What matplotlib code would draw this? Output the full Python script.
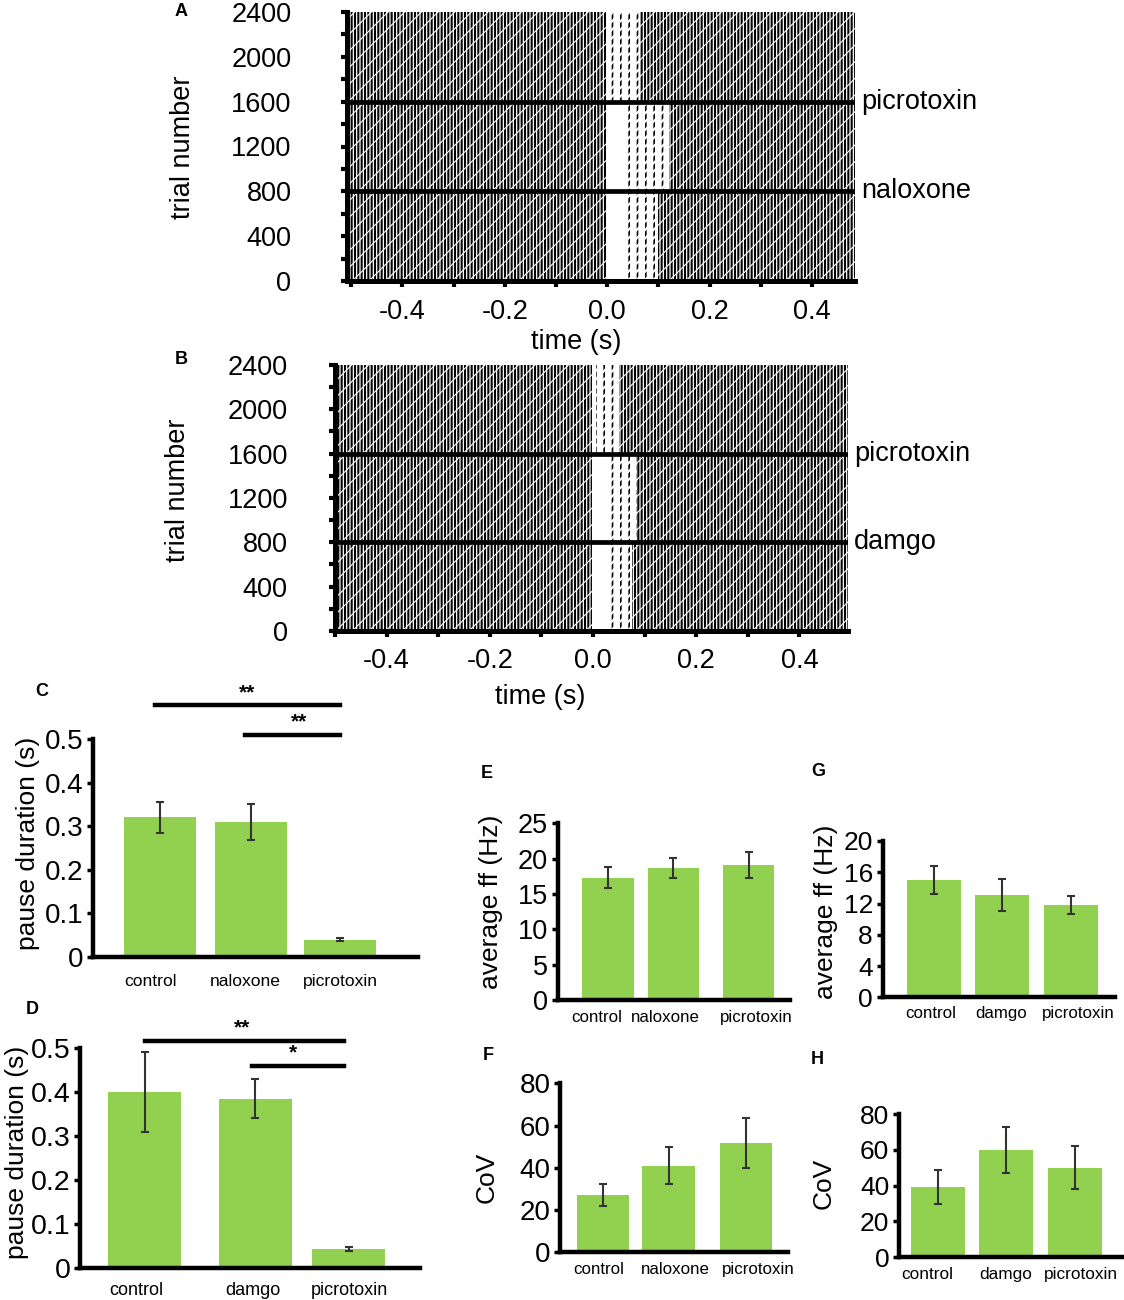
import matplotlib
matplotlib.use('Agg')
import matplotlib.pyplot as plt

plt.rcParams['font.family'] = ['Liberation Sans', 'DejaVu Sans']

# raster panels (A, B): trial blocks, end of the silent pause, end of the sparse zone
trial_edges = [0, 800, 1600, 2400]
a_drugs = ['naloxone', 'picrotoxin']
a_pause_end = [0.035, 0.035, 0.008]
a_recovery = [0.10, 0.12, 0.065]
b_drugs = ['damgo', 'picrotoxin']
b_pause_end = [0.03, 0.035, 0.005]
b_recovery = [0.075, 0.085, 0.05]
time_ticks = [-0.4, -0.2, 0.0, 0.2, 0.4]
trial_ticks = [0, 400, 800, 1200, 1600, 2000, 2400]

# bar panels (C-H)
nal_names = ['control', 'naloxone', 'picrotoxin']
dam_names = ['control', 'damgo', 'picrotoxin']
c_pause = [0.32, 0.31, 0.04]
c_err = [0.036, 0.041, 0.004]
d_pause = [0.40, 0.385, 0.043]
d_err = [0.09, 0.044, 0.004]
e_ff = [17.3, 18.7, 19.1]
e_err = [1.5, 1.45, 1.9]
f_cov = [27.1, 41.0, 51.9]
f_err = [5.0, 8.7, 11.8]
g_ff = [15.0, 13.1, 11.8]
g_err = [1.8, 2.05, 1.1]
h_cov = [39, 60, 50]
h_err = [9.5, 13, 12]

GREEN = '#92D050'
W, H = 1124, 1300

fig = plt.figure(figsize=(W / 100, H / 100), dpi=100)


def box(l, t, r, b):
    # pixel box -> figure fraction
    return [l / W, 1 - b / H, (r - l) / W, (b - t) / H]


def spike_fill(ax, a, b, lo, hi, dense):
    # raster texture: vertical black strokes cut by thin white slants
    with plt.rc_context({'hatch.linewidth': 1.5 if dense else 1.2}):
        ax.fill_between([a, b], lo, hi, facecolor='white', edgecolor='black',
                        hatch='|||||' if dense else '||', linewidth=0)
    with plt.rc_context({'hatch.linewidth': 0.8 if dense else 1.6}):
        ax.fill_between([a, b], lo, hi, facecolor='none', edgecolor='white',
                        hatch='//' if dense else '////', linewidth=0)


def raster(ax, pause_end, recovery, xlim, drugs, ypad, xpad):
    x0, x1 = xlim
    for i in range(3):
        lo, hi = trial_edges[i], trial_edges[i + 1]
        spike_fill(ax, x0, -0.002, lo, hi, True)
        spike_fill(ax, pause_end[i], recovery[i], lo, hi, False)
        spike_fill(ax, recovery[i], x1, lo, hi, True)
    for y in trial_edges[1:3]:
        ax.axhline(y, color='black', lw=3.4)
    ax.set_xlim(x0, x1)
    ax.set_ylim(0, 2400)
    for s in ['top', 'right']:
        ax.spines[s].set_visible(False)
    for s in ['left', 'bottom']:
        ax.spines[s].set_linewidth(3.6)
    ax.set_xticks(time_ticks)
    ax.set_xticklabels(['%.1f' % t for t in time_ticks])
    ax.set_xticks([-0.5, -0.3, -0.1, 0.1, 0.3], minor=True)
    ax.set_yticks(trial_ticks)
    ax.set_yticks(range(200, 2400, 400), minor=True)
    ax.tick_params(axis='y', which='both', length=4, width=3, pad=ypad, labelsize=19.5)
    ax.tick_params(axis='x', which='both', length=4, width=3, pad=xpad, labelsize=19.5)
    for y, name in zip(trial_edges[1:3], drugs):
        ax.text(1.012, y, name, transform=ax.get_yaxis_transform(), fontsize=19.5,
                va='center', ha='left')


def bars(ax, pos, vals, errs, names, label_pos, ylim, yticks, xlim, width,
         ylab_size, xpad, xlab_size=12.6):
    ax.bar(pos, vals, width=width, color=GREEN)
    ax.errorbar(pos, vals, yerr=errs, fmt='none', ecolor='#333333', elinewidth=1.5,
                capsize=3, capthick=1.5)
    ax.set_xlim(*xlim)
    ax.set_ylim(*ylim)
    ax.set_yticks(yticks)
    ax.set_xticks(label_pos)
    ax.set_xticklabels(names)
    for s in ['top', 'right']:
        ax.spines[s].set_visible(False)
    for s in ['left', 'bottom']:
        ax.spines[s].set_linewidth(3.2)
    ax.spines['left'].set_capstyle('projecting')
    ax.tick_params(axis='y', length=4, width=2.5, pad=3, labelsize=ylab_size)
    ax.tick_params(axis='x', length=0, pad=xpad, labelsize=xlab_size)


# ---- A
axA = fig.add_axes(box(347, 12, 855, 281))
raster(axA, a_pause_end, a_recovery, (-0.508, 0.484), a_drugs, 36, 9)
fig.text(576 / W, 1 - 342 / H, 'time (s)', fontsize=19.5, ha='center', va='center')
fig.text(183 / W, 1 - 147 / H, 'trial number', fontsize=19.5, rotation=90,
         ha='center', va='center')

# ---- B
axB = fig.add_axes(box(335, 365, 848, 631))
raster(axB, b_pause_end, b_recovery, (-0.5, 0.494), b_drugs, 30, 8)
fig.text(540 / W, 1 - 697 / H, 'time (s)', fontsize=19.5, ha='center', va='center')
fig.text(178 / W, 1 - 490 / H, 'trial number', fontsize=19.5, rotation=90,
         ha='center', va='center')

# ---- C
axC = fig.add_axes(box(93, 739, 418, 957))
pc = [0, 1, 1.97]
bars(axC, pc, c_pause, c_err, nal_names, [-0.1, 0.94, 1.98], (0, 0.5),
     [0, 0.1, 0.2, 0.3, 0.4, 0.5], (-0.735, 2.83), 0.79, 20, 12)
axC.set_yticklabels(['0', '0.1', '0.2', '0.3', '0.4', '0.5'])
axC.plot([-0.05, 1.97], [0.578, 0.578], color='black', lw=3.2, clip_on=False)
axC.plot([0.93, 1.97], [0.51, 0.51], color='black', lw=3.2, clip_on=False)
axC.text(0.96, 0.585, '**', fontsize=15, fontweight='bold', ha='center', va='bottom')
axC.text(1.52, 0.517, '**', fontsize=15, fontweight='bold', ha='center', va='bottom')
fig.text(28 / W, 1 - 843 / H, 'pause duration (s)', fontsize=19, rotation=90,
         ha='center', va='center')

# ---- D
axD = fig.add_axes(box(80, 1048, 420, 1268))
pd_ = [0, 1, 1.84]
bars(axD, pd_, d_pause, d_err, dam_names, [-0.08, 0.98, 1.85], (0, 0.5),
     [0, 0.1, 0.2, 0.3, 0.4, 0.5], (-0.584, 2.485), 0.654, 20.5, 10, 13)
axD.set_yticklabels(['0', '0.1', '0.2', '0.3', '0.4', '0.5'])
axD.plot([0, 1.8], [0.517, 0.517], color='black', lw=3.2, clip_on=False)
axD.plot([0.97, 1.8], [0.46, 0.46], color='black', lw=3.2, clip_on=False)
axD.text(0.88, 0.524, '**', fontsize=15, fontweight='bold', ha='center', va='bottom')
axD.text(1.34, 0.467, '*', fontsize=15, fontweight='bold', ha='center', va='bottom')
fig.text(17 / W, 1 - 1152 / H, 'pause duration (s)', fontsize=19, rotation=90,
         ha='center', va='center')

# ---- E
axE = fig.add_axes(box(557.7, 823.3, 790, 1000))
bars(axE, [0, 1, 2.15], e_ff, e_err, nal_names, [-0.17, 0.87, 2.27], (0, 25),
     [0, 5, 10, 15, 20, 25], (-0.768, 2.78), 0.78, 19.5, 7, 12.2)
fig.text(491 / W, 1 - 902 / H, 'average ff (Hz)', fontsize=19, rotation=90,
         ha='center', va='center')

# ---- F
axF = fig.add_axes(box(560, 1083.3, 788.3, 1252.3))
bars(axF, [0, 1, 2.19], f_cov, f_err, nal_names, [-0.07, 1.10, 2.37], (0, 80),
     [0, 20, 40, 60, 80], (-0.664, 2.837), 0.8, 20, 7, 12.2)
fig.text(487 / W, 1 - 1177 / H, 'CoV', fontsize=19, rotation=90,
         ha='center', va='center')

# ---- G
axG = fig.add_axes(box(882.7, 841, 1115, 997.3))
bars(axG, [0, 1, 2], g_ff, g_err, dam_names, [-0.05, 0.99, 2.11], (0, 20),
     [0, 4, 8, 12, 16, 20], (-0.745, 2.647), 0.79, 19, 6, 12.2)
fig.text(826 / W, 1 - 912 / H, 'average ff (Hz)', fontsize=19, rotation=90,
         ha='center', va='center')

# ---- H
axH = fig.add_axes(box(899, 1114, 1123, 1257.3))
bars(axH, [0, 1, 2], h_cov, h_err, dam_names, [-0.16, 0.99, 2.09], (0, 80),
     [0, 20, 40, 60, 80], (-0.566, 2.70), 0.79, 19, 7, 12.4)
fig.text(824 / W, 1 - 1183 / H, 'CoV', fontsize=19, rotation=90,
         ha='center', va='center')

# panel letters
for letter, x, y in [('A', 181, 12), ('B', 181, 360), ('C', 42, 692), ('D', 32, 1010),
                     ('E', 487, 773), ('F', 488, 1055), ('G', 818, 771), ('H', 817, 1060)]:
    fig.text(x / W, 1 - y / H, letter, fontsize=13, fontweight='bold',
             ha='center', va='center')

fig.savefig('out.png', dpi=100)
